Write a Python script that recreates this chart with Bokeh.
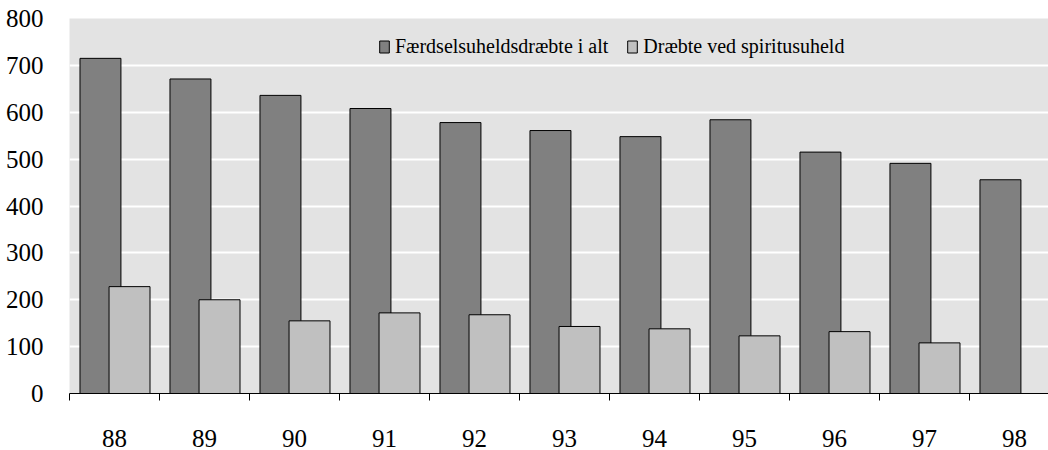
import numpy as np
from bokeh.plotting import figure
from bokeh.models import Range1d, FixedTicker, Legend, LegendItem
from bokeh.embed import file_html
from bokeh.resources import INLINE

years = ["88", "89", "90", "91", "92", "93", "94", "95", "96", "97", "98"]
total_killed = [715, 671, 636, 608, 578, 561, 548, 584, 515, 491, 456]
alcohol_killed = [228, 200, 155, 172, 168, 143, 138, 123, 132, 108, np.nan]
y_ticks = [0, 100, 200, 300, 400, 500, 600, 700, 800]

FONT = "Liberation Serif"
n = len(years)
idx = np.arange(n)

p = figure(width=1048, height=450, output_backend="svg", toolbar_location=None,
           x_range=Range1d(0, 10.878), y_range=Range1d(0, 800),
           min_border_left=69, min_border_right=0, min_border_top=18, min_border_bottom=57)
p.background_fill_color = "#e3e3e3"
p.border_fill_color = "white"
p.outline_line_color = None

r1 = p.vbar(x=idx + 0.344, top=total_killed, width=0.455, bottom=0,
            fill_color="#808080", line_color="black", line_width=1)
r2 = p.vbar(x=idx + 0.667, top=alcohol_killed, width=0.455, bottom=0,
            fill_color="#c0c0c0", line_color="black", line_width=1)

# x axis: labels at centers, ticks at category boundaries (minor ticks)
centers = [i + 0.5 for i in range(n)]
bounds = [float(i) for i in range(n + 1)]
p.xaxis.ticker = FixedTicker(ticks=centers, minor_ticks=bounds)
p.xaxis.major_label_overrides = {c: years[i] for i, c in enumerate(centers)}
p.xaxis.major_tick_line_color = None
p.xaxis.major_tick_out = 0
p.xaxis.major_tick_in = 0
p.xaxis.minor_tick_line_color = "black"
p.xaxis.minor_tick_out = 7
p.xaxis.minor_tick_in = 0
p.xaxis.axis_line_color = "black"
p.xaxis.axis_line_width = 1
p.xaxis.major_label_standoff = 29
p.xaxis.major_label_text_font = FONT
p.xaxis.major_label_text_font_size = "25px"
p.xaxis.major_label_text_color = "black"

p.yaxis.ticker = FixedTicker(ticks=y_ticks)
p.yaxis.axis_line_color = None
p.yaxis.major_tick_line_color = None
p.yaxis.minor_tick_line_color = None
p.yaxis.major_label_standoff = 20
p.yaxis.major_label_text_font = FONT
p.yaxis.major_label_text_font_size = "25px"
p.yaxis.major_label_text_color = "black"

p.xgrid.grid_line_color = None
p.ygrid.ticker = FixedTicker(ticks=y_ticks)
p.ygrid.grid_line_color = "white"
p.ygrid.grid_line_width = 2

legend = Legend(items=[LegendItem(label="Færdselsuheldsdræbte i alt", renderers=[r1]),
                       LegendItem(label="Dræbte ved spiritusuheld", renderers=[r2])],
                orientation="horizontal", location=(309, 335),
                background_fill_alpha=0, border_line_color=None,
                padding=0, margin=0, spacing=18, label_standoff=5,
                glyph_width=12, glyph_height=15,
                label_text_font=FONT, label_text_font_size="20px",
                label_text_color="black")
p.add_layout(legend, "center")

open("out.html", "w").write(file_html(p, INLINE))
